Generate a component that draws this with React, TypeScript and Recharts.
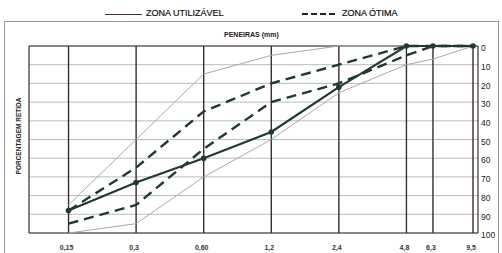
import { LineChart, Line, XAxis, YAxis, CartesianGrid, ReferenceLine } from "recharts";

const SIEVES = [0.15, 0.3, 0.6, 1.2, 2.4, 4.8, 6.3, 9.5];
const SIEVE_LABELS = ["0,15", "0,3", "0,60", "1,2", "2,4", "4,8", "6,3", "9,5"];
const Y_TICKS = [0, 10, 20, 30, 40, 50, 60, 70, 80, 90, 100];

// % retida acumulada
const AMOSTRA = [88, 73, 60, 46, 22, 0, 0, 0];
const OTIMA_INF = [88, 65, 35, 20, 10, 0, 0, 0];
const OTIMA_SUP = [95, 85, 55, 30, 20, 5, 0, 0];
const UTIL_INF = [85, 50, 15, 5, 0, 0, 0, 0];
const UTIL_SUP = [100, 95, 70, 50, 25, 10, 7, 0];

const data = SIEVES.map((s, i) => ({
  sieve: s,
  amostra: AMOSTRA[i],
  otimaInf: OTIMA_INF[i],
  otimaSup: OTIMA_SUP[i],
  utilInf: UTIL_INF[i],
  utilSup: UTIL_SUP[i],
}));

const INK = "#1f3a36";
const FRAME = "#3b2d2b";
const FONT = "'Liberation Sans', Arial, sans-serif";

const XTick = ({ x, payload }: any) => {
  const i = SIEVES.indexOf(payload.value);
  return (
    <text x={x - 2} y={250} textAnchor="middle" fontSize={7} fontWeight="bold" fill="#333" fontFamily={FONT}>
      {SIEVE_LABELS[i]}
    </text>
  );
};

const YTick = ({ y, payload }: any) => (
  <text x={481} y={y + 3} dominantBaseline="middle" fontSize={8.5} fill="#222" fontFamily={FONT}>
    {payload.value}
  </text>
);

export default function App() {
  return (
    <div style={{ position: "absolute", left: 0, top: 0, width: 502, height: 253, background: "#fff", fontFamily: FONT, overflow: "hidden" }}>
      <div style={{ position: "absolute", left: 4, top: 21, width: 493, height: 240, border: "1px solid #9a9a9a" }} />
      {/* legenda */}
      <div style={{ position: "absolute", left: 105, top: 14, width: 37, borderTop: "1px solid #4a302c" }} />
      <div style={{ position: "absolute", left: 146, top: 8, fontSize: 9, color: "#111", whiteSpace: "nowrap", WebkitTextStroke: "0.2px #111" }}>ZONA UTILIZÁVEL</div>
      <div style={{ position: "absolute", left: 302, top: 13, width: 33, borderTop: "2px dashed #222" }} />
      <div style={{ position: "absolute", left: 342, top: 8, fontSize: 9, color: "#111", whiteSpace: "nowrap", WebkitTextStroke: "0.2px #111" }}>ZONA ÓTIMA</div>
      <div style={{ position: "absolute", left: 224, top: 31, fontSize: 7, fontWeight: "bold", color: "#222", whiteSpace: "nowrap" }}>PENEIRAS (mm)</div>
      <div
        style={{
          position: "absolute",
          left: 18,
          top: 136,
          transform: "translate(-50%, -50%) rotate(-90deg)",
          fontSize: 6.5,
          fontWeight: "bold",
          color: "#222",
          whiteSpace: "nowrap",
        }}
      >
        PORCENTAGEM RETIDA
      </div>
      <div style={{ position: "absolute", left: 0, top: 0 }}>
        <LineChart width={502} height={253} data={data} margin={{ top: 46, right: 0, bottom: 0, left: 29 }}>
          <CartesianGrid vertical={false} stroke="#b8bcc2" strokeWidth={1} />
          <XAxis
            dataKey="sieve"
            type="number"
            scale="log"
            domain={[0.1, 10]}
            ticks={SIEVES}
            allowDataOverflow
            axisLine={false}
            tickLine={false}
            height={20}
            tick={<XTick />}
            interval={0}
          />
          <YAxis
            orientation="right"
            reversed
            domain={[0, 100]}
            ticks={Y_TICKS}
            axisLine={false}
            tickLine={false}
            width={24}
            tick={<YTick />}
            interval={0}
          />
          {SIEVES.map((s) => (
            <ReferenceLine key={s} x={s} stroke={FRAME} strokeWidth={1.4} />
          ))}
          <ReferenceLine x={0.1} stroke={FRAME} strokeWidth={1.2} />
          <ReferenceLine x={10} stroke={FRAME} strokeWidth={1.2} />
          <ReferenceLine y={0} stroke={FRAME} strokeWidth={1.2} />
          <ReferenceLine y={100} stroke={FRAME} strokeWidth={1.2} />
          <Line dataKey="utilInf" stroke="#a9a9a9" strokeWidth={1} dot={false} isAnimationActive={false} />
          <Line dataKey="utilSup" stroke="#a9a9a9" strokeWidth={1} dot={false} isAnimationActive={false} />
          <Line dataKey="otimaInf" stroke={INK} strokeWidth={2.4} strokeDasharray="10 6" dot={false} isAnimationActive={false} />
          <Line dataKey="otimaSup" stroke={INK} strokeWidth={2.4} strokeDasharray="10 6" dot={false} isAnimationActive={false} />
          <Line
            dataKey="amostra"
            stroke={INK}
            strokeWidth={2.2}
            dot={{ r: 1.7, fill: INK, stroke: INK }}
            isAnimationActive={false}
          />
        </LineChart>
      </div>
    </div>
  );
}
